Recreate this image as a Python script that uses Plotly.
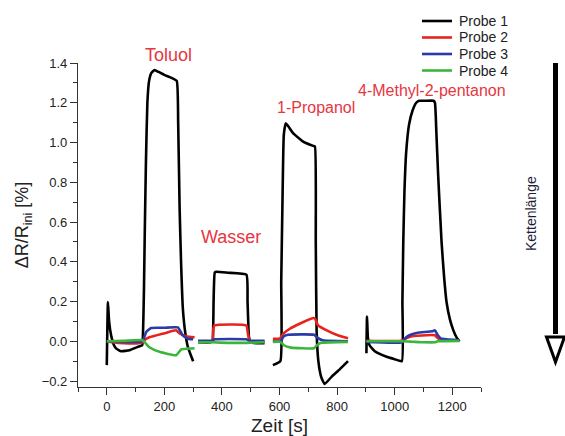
import plotly.graph_objects as go

# ---- data (segments separated by None) ----
t_probe1 = [0, 4, 8, 15, 25, 33, 50, 79, 108, 123, 126, 129, 132, 136, 141, 147, 155, 166, 180, 200, 225, 243, 248, 253, 258, 264, 272, 282, 292, 300,
            None,
            317, 360, 367, 371, 375, 380, 420, 485, 489, 494, 500, 520, 548,
            None,
            577, 603, 606, 610, 615, 622, 647, 682, 717, 723, 726, 729, 735, 745, 757, 780, 810, 838,
            None,
            902, 904, 907, 913, 931, 972, 1000, 1025, 1027, 1030, 1034, 1040, 1050, 1062, 1075, 1085, 1110, 1135, 1140, 1145, 1151, 1163, 1172, 1180, 1192, 1204, 1215, 1225]
v_probe1 = [-0.12, 0.197, 0.10, 0.03, -0.02, -0.037, -0.05, -0.045, -0.028, -0.02, 0.05, 0.25, 0.55, 0.9, 1.2, 1.31, 1.35, 1.365, 1.355, 1.34, 1.325, 1.31, 1.1, 0.67, 0.4, 0.17, 0.05, -0.03, -0.07, -0.1,
            None,
            -0.005, -0.005, 0.0, 0.2, 0.345, 0.35, 0.345, 0.335, 0.2, 0.02, -0.005, -0.01, -0.01,
            None,
            -0.12, -0.1, 0.3, 0.67, 1.04, 1.097, 1.047, 1.005, 0.983, 0.98, 0.5, 0.05, -0.1, -0.18, -0.215, -0.18, -0.14, -0.1,
            None,
            -0.06, 0.125, 0.02, -0.02, -0.05, -0.078, -0.09, -0.1, 0.2, 0.5, 0.75, 0.95, 1.09, 1.16, 1.2, 1.21, 1.21, 1.21, 1.2, 1.05, 0.84, 0.5, 0.32, 0.2, 0.11, 0.055, 0.02, 0.0]

t_probe2 = [0, 20, 60, 110, 124, 135, 148, 200, 241, 253, 276, 305,
            None,
            317, 367, 370, 374, 485, 490, 496, 500, 548,
            None,
            577, 601, 613, 636, 670, 717, 723, 734, 764, 798, 838,
            None,
            902, 1025, 1040, 1060, 1080, 1140, 1150, 1165, 1225]
v_probe2 = [0.0, -0.005, -0.01, -0.01, -0.005, 0.01, 0.02, 0.04, 0.055, 0.04, 0.025, 0.02,
            None,
            0.0, 0.0, 0.06, 0.08, 0.08, 0.04, 0.005, 0.0, 0.0,
            None,
            0.013, 0.013, 0.038, 0.063, 0.088, 0.117, 0.115, 0.08, 0.055, 0.033, 0.015,
            None,
            0.003, 0.003, 0.015, 0.025, 0.028, 0.03, 0.015, 0.005, 0.003]

t_probe3 = [0, 60, 124, 137, 154, 200, 247, 264, 282, 300,
            None,
            317, 367, 375, 485, 495, 548,
            None,
            577, 603, 615, 630, 720, 730, 750, 838,
            None,
            902, 1025, 1040, 1060, 1080, 1130, 1140, 1150, 1160, 1180, 1225]
v_probe3 = [0.0, -0.003, 0.0, 0.047, 0.067, 0.068, 0.07, 0.03, 0.013, 0.01,
            None,
            0.003, 0.003, 0.01, 0.01, 0.003, 0.003,
            None,
            0.0, 0.0, 0.025, 0.033, 0.033, 0.02, 0.005, 0.0,
            None,
            -0.003, -0.005, 0.02, 0.035, 0.043, 0.05, 0.055, 0.03, 0.015, 0.01, 0.005]

t_probe4 = [0, 60, 124, 148, 183, 241, 259, 280, 305,
            None,
            317, 367, 420, 485, 548,
            None,
            577, 603, 615, 640, 720, 730, 745, 838,
            None,
            902, 1025, 1060, 1100, 1140, 1150, 1225]
v_probe4 = [0.0, 0.002, 0.005, -0.03, -0.053, -0.07, -0.04, -0.037, -0.035,
            None,
            -0.005, -0.005, -0.008, -0.008, -0.005,
            None,
            -0.003, -0.003, -0.02, -0.032, -0.035, -0.02, -0.008, -0.003,
            None,
            0.0, 0.0, -0.002, -0.005, -0.005, 0.0, 0.002]

series_names = ["Probe 1", "Probe 2", "Probe 3", "Probe 4"]
series_colors = ["#000000", "#e8221c", "#2a3aa8", "#3cb63a"]

label_texts = ["Toluol", "Wasser", "1-Propanol", "4-Methyl-2-pentanon"]
x_tick_vals = [0, 200, 400, 600, 800, 1000, 1200]
y_tick_vals = [-0.2, 0.0, 0.2, 0.4, 0.6, 0.8, 1.0, 1.2, 1.4]

FONT = "Arial, 'Liberation Sans', sans-serif"
TEXT_RED = "#e8353f"

fig = go.Figure()
for t, v, name, col in zip([t_probe1, t_probe2, t_probe3, t_probe4],
                           [v_probe1, v_probe2, v_probe3, v_probe4],
                           series_names, series_colors):
    fig.add_trace(go.Scatter(x=t, y=v, mode="lines", name=name, showlegend=False,
                             line=dict(color=col, width=2.6, shape="spline", smoothing=0.4),
                             connectgaps=False))

W, H = 565, 436
ml, mr, mt, mb = 78, 84, 63, 49
pw, ph = W - ml - mr, H - mt - mb


def px2paper(px, py):
    return (px - ml) / pw, (H - mb - py) / ph


fig.update_layout(
    width=W, height=H,
    margin=dict(l=ml, r=mr, t=mt, b=mb, autoexpand=False),
    paper_bgcolor="white", plot_bgcolor="white",
    font=dict(family=FONT, color="#222222", size=13),
    showlegend=False,
    xaxis=dict(range=[-100, 1300], tickvals=x_tick_vals, ticks="outside", ticklen=7, tickwidth=1.2,
               tickcolor="#333", showline=True, linecolor="#333", linewidth=1.2, showgrid=False,
               zeroline=False, tickfont=dict(size=13), automargin=False,
               minor=dict(ticks="outside", ticklen=4, tickwidth=1.2, tickcolor="#333", dtick=100, tick0=0, showgrid=False),
               title=dict(text="Zeit [s]", font=dict(size=19), standoff=15)),
    yaxis=dict(range=[-0.23, 1.4], tickvals=y_tick_vals, tickformat=".1f", ticks="outside", ticklen=7,
               tickwidth=1.2, tickcolor="#333", showline=True, linecolor="#333", linewidth=1.2,
               showgrid=False, zeroline=False, tickfont=dict(size=13), automargin=False,
               minor=dict(ticks="outside", ticklen=4, tickwidth=1.2, tickcolor="#333", dtick=0.1, tick0=0, showgrid=False),
               title=dict(text="ΔR/R<sub>ini</sub> [%]", font=dict(size=18), standoff=8)),
)

# legend drawn as line samples + labels (top right)
legend_rows_px = [21, 37.5, 54, 70.5]
for name, col, ry in zip(series_names, series_colors, legend_rows_px):
    lx0, ly = px2paper(422, ry)
    lx1, _ = px2paper(452, ry)
    fig.add_shape(type="line", xref="paper", yref="paper", x0=lx0, y0=ly, x1=lx1, y1=ly,
                  line=dict(color=col, width=2.6))
    tx, _ = px2paper(457, ry)
    fig.add_annotation(text=name, x=tx, y=ly, xref="paper", yref="paper", xanchor="left",
                       yanchor="middle", showarrow=False, font=dict(size=14, color="#222"))

# solvent labels
fig.add_annotation(text=label_texts[0], x=213, y=px2paper(0, 55)[1], xref="x", yref="paper",
                   xanchor="center", yanchor="middle",
                   showarrow=False, font=dict(size=18, color=TEXT_RED))
fig.add_annotation(text=label_texts[1], x=433, y=0.525, xref="x", yref="y",
                   xanchor="center", yanchor="middle",
                   showarrow=False, font=dict(size=18, color=TEXT_RED))
fig.add_annotation(text=label_texts[2], x=728, y=1.174, xref="x", yref="y",
                   xanchor="center", yanchor="middle",
                   showarrow=False, font=dict(size=16, color=TEXT_RED))
fig.add_annotation(text=label_texts[3], x=1131, y=1.264, xref="x", yref="y",
                   xanchor="center", yanchor="middle",
                   showarrow=False, font=dict(size=16, color=TEXT_RED))

# chain-length arrow on the right
x0, y0 = px2paper(555.5, 63)
x1, y1 = px2paper(555.5, 334)
fig.add_shape(type="line", xref="paper", yref="paper", x0=x0, y0=y0, x1=x1, y1=y1,
              line=dict(color="black", width=5))
a = px2paper(546.5, 337)
b = px2paper(564.5, 337)
c = px2paper(555.5, 362)
fig.add_shape(type="path", xref="paper", yref="paper",
              path=f"M {a[0]} {a[1]} L {b[0]} {b[1]} L {c[0]} {c[1]} Z",
              line=dict(color="black", width=3), fillcolor="white")
kx, ky = px2paper(531, 214)
fig.add_annotation(text="Kettenlänge", x=kx, y=ky, xref="paper", yref="paper", textangle=-90,
                   xanchor="center", yanchor="middle",
                   showarrow=False, font=dict(size=14, color="#1e1e3a"))

fig.write_html("out.html")
